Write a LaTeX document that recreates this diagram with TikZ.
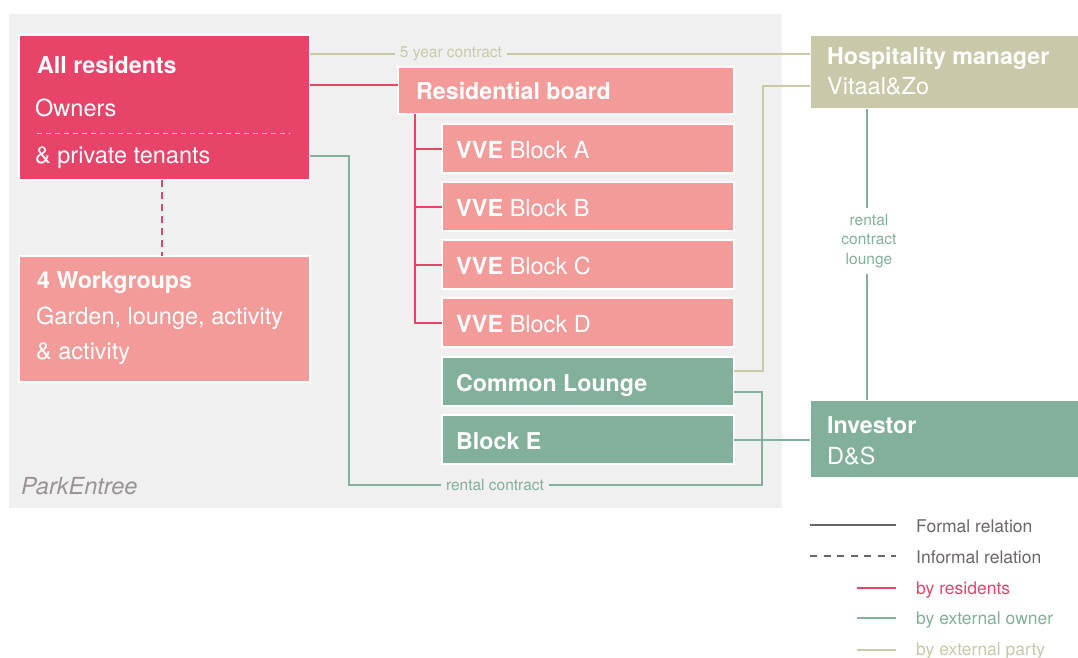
\documentclass[tikz,border=0pt]{standalone}
\usepackage{fontspec}
\setmainfont{TeX Gyre Heros}
\definecolor{resred}{HTML}{E8446A}
\definecolor{salmon}{HTML}{F29B98}
\definecolor{extgreen}{HTML}{83B09A}
\definecolor{extolive}{HTML}{C9C9A9}
\definecolor{panel}{HTML}{F0F0F0}
\definecolor{legendgray}{HTML}{6B6566}
\definecolor{labelgray}{HTML}{9A9294}
\begin{document}
\begin{tikzpicture}[x=1pt,y=-1pt,
  box/.style={draw=white,line width=1.2pt,inner sep=0pt,outer sep=0pt},
  head/.style={anchor=base west,inner sep=0pt,text=white,font=\fontsize{23.2}{27}\selectfont\bfseries},
  plain/.style={anchor=base west,inner sep=0pt,text=white,font=\fontsize{23.5}{27}\selectfont},
  link/.style={line width=2pt},
  small/.style={font=\fontsize{15.5}{19.5}\selectfont},
  legtext/.style={anchor=base west,inner sep=0pt,font=\fontsize{17.5}{20}\selectfont}]

\useasboundingbox (0,0) rectangle (1078,657);
\fill[white] (0,0) rectangle (1078,657);

% ParkEntree area
\fill[panel] (9,14) rectangle (782,508);
\node[anchor=base west,inner sep=0pt,text=labelgray,font=\fontsize{23.5}{27}\selectfont\itshape] (park) at (21,494) {ParkEntree};

% named bends of the connectors
\coordinate (yfive) at (0,54);
\coordinate (yboard) at (0,85);
\coordinate (ytenant) at (0,156);
\coordinate (yvitaal) at (0,86);
\coordinate (ylngolive) at (0,371);
\coordinate (ylnggreen) at (0,392);
\coordinate (yrent) at (0,485);
\coordinate (xbracket) at (415,0);
\coordinate (xolive) at (763,0);
\coordinate (xgreen) at (762,0);
\coordinate (xtenant) at (349,0);
\coordinate (xwork) at (162,0);
\coordinate (xhosp) at (867,0);

% boxes
\node[box,fill=resred,minimum width=291pt,minimum height=145pt] (allres) at (164.5,107.5) {};
\node[box,fill=salmon,minimum width=291pt,minimum height=126pt] (work) at (164.5,319) {};
\node[box,fill=salmon,minimum width=336pt,minimum height=47pt] (board) at (566,90.5) {};
\node[box,fill=salmon,minimum width=292pt,minimum height=49pt] (vveA) at (588,148.5) {};
\node[box,fill=salmon,minimum width=292pt,minimum height=49pt] (vveB) at (588,206.5) {};
\node[box,fill=salmon,minimum width=292pt,minimum height=49pt] (vveC) at (588,264.5) {};
\node[box,fill=salmon,minimum width=292pt,minimum height=49pt] (vveD) at (588,322.5) {};
\node[box,fill=extgreen,minimum width=292pt,minimum height=49pt] (lounge) at (588,381.5) {};
\node[box,fill=extgreen,minimum width=292pt,minimum height=49pt] (blockE) at (588,439.5) {};
\node[box,fill=extolive,minimum width=270pt,minimum height=74pt] (hosp) at (945,72) {};
\node[box,fill=extgreen,minimum width=270pt,minimum height=78pt] (investor) at (945,439) {};

% box texts
\node[head] (allresT) at (37,73) {All residents};
\node[plain] (owners) at (35,116) {Owners};
\draw[white,opacity=0.7,line width=1pt,dash pattern=on 5pt off 4pt] (37,133) -- (290,133);
\node[plain] (tenants) at (35,163) {\& private tenants};
\node[head] (workT) at (37,288) {4 Workgroups};
\node[plain] (workL1) at (36,324) {Garden, lounge, activity};
\node[plain] (workL2) at (36,359) {\& activity};
\node[head] (boardT) at (416,99) {Residential board};
\node[plain] (vveAT) at (456,158) {\textbf{VVE} Block A};
\node[plain] (vveBT) at (456,216) {\textbf{VVE} Block B};
\node[plain] (vveCT) at (456,274) {\textbf{VVE} Block C};
\node[plain] (vveDT) at (456,332) {\textbf{VVE} Block D};
\node[head] (loungeT) at (456,391) {Common Lounge};
\node[head] (blockET) at (456,449) {Block E};
\node[head] (hospT) at (827,64) {Hospitality manager};
\node[plain] (hospS) at (827,94) {Vitaal\&Zo};
\node[head] (invT) at (827,433) {Investor};
\node[plain] (invS) at (827,464) {D\&S};

% relations by residents
\draw[link,resred] (allres.east |- yboard) -- (board.west |- yboard);
\draw[link,resred] (xbracket |- board.south) |- (vveD.west);
\foreach \v in {vveA,vveB,vveC}
  \draw[link,resred] (xbracket |- \v.west) -- (\v.west);
\draw[link,resred,dash pattern=on 7pt off 5pt] (xwork |- allres.south) -- (xwork |- work.north);

% relations by the external party
\draw[link,extolive] (allres.east |- yfive) -- (hosp.west |- yfive);
\node[small,text=extolive,fill=panel,inner xsep=4.5pt,inner ysep=2pt] (fiveyear) at (451,54) {5 year contract};
\draw[link,extolive] (hosp.west |- yvitaal) -| (xolive |- ylngolive) -- (lounge.east |- ylngolive);

% relations by the external owner
\draw[link,extgreen] (lounge.east |- ylnggreen) -| (xgreen |- yrent) -| (xtenant |- ytenant) -- (allres.east |- ytenant);
\node[small,text=extgreen,fill=panel,inner xsep=5pt,inner ysep=2pt] (rent) at (495,485) {rental contract};
\draw[link,extgreen] (blockE.east) -- (investor.west |- blockE.east);
\draw[link,extgreen] (xhosp |- hosp.south) -- (xhosp |- investor.north);
\node[small,text=extgreen,fill=white,align=center,inner xsep=4pt,inner ysep=6pt] (rentlounge) at (869,241) {rental\\contract\\lounge};

% legend
\coordinate (lgA) at (810,525); \coordinate (lgAe) at (896,525);
\coordinate (lgB) at (810,556); \coordinate (lgBe) at (896,556);
\coordinate (lgC) at (857,588); \coordinate (lgCe) at (896,588);
\coordinate (lgD) at (857,618); \coordinate (lgDe) at (896,618);
\coordinate (lgE) at (857,650); \coordinate (lgEe) at (896,650);
\draw[link,legendgray] (lgA) -- (lgAe);
\draw[link,legendgray,dash pattern=on 7pt off 6.5pt] (lgB) -- (lgBe);
\draw[link,resred] (lgC) -- (lgCe);
\draw[link,extgreen] (lgD) -- (lgDe);
\draw[link,extolive] (lgE) -- (lgEe);
\node[legtext,text=legendgray] (lgAT) at (916,532) {Formal relation};
\node[legtext,text=legendgray] (lgBT) at (916,563) {Informal relation};
\node[legtext,text=resred] (lgCT) at (916,594) {by residents};
\node[legtext,text=extgreen] (lgDT) at (916,624) {by external owner};
\node[legtext,text=extolive] (lgET) at (916,655) {by external party};
\end{tikzpicture}
\end{document}
